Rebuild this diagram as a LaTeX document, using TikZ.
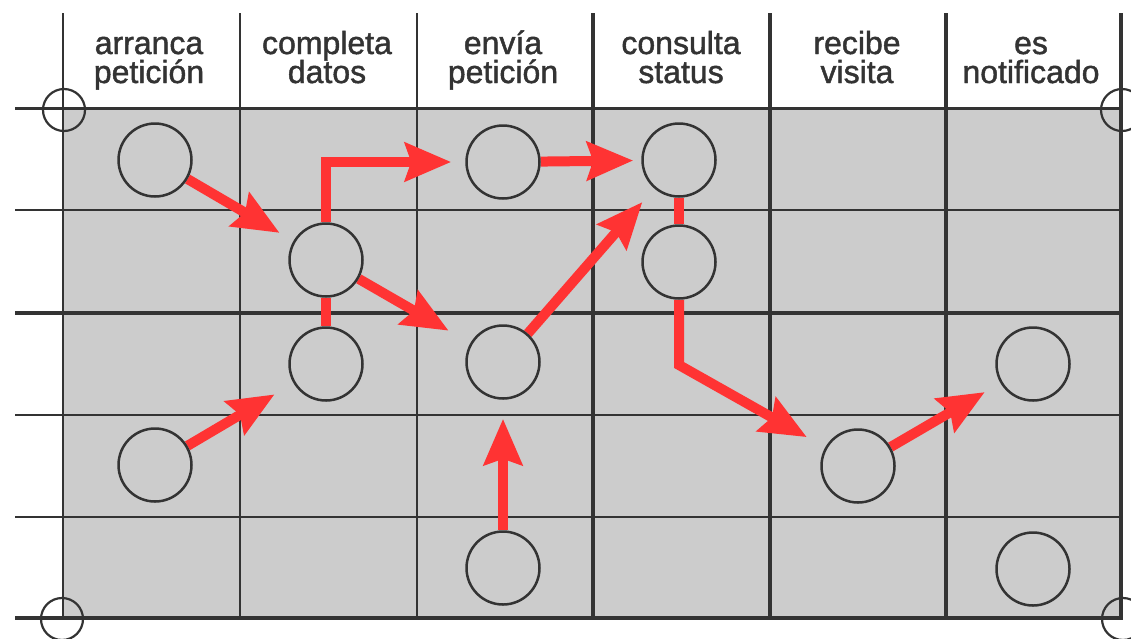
\documentclass[tikz,border=0pt]{standalone}
\usepackage{fontspec}
\newfontfamily\hdrfont[FakeBold=1.4]{Liberation Sans}
\usetikzlibrary{arrows.meta}
\definecolor{gridgray}{HTML}{CCCCCC}
\definecolor{ink}{HTML}{333333}
\definecolor{flowred}{HTML}{FF3333}
\pgfdeclarelayer{back}
\pgfdeclarelayer{mid}
\pgfsetlayers{back,mid,main}
\begin{document}
\begin{tikzpicture}[x=1pt,y=-1pt,
  act/.style={circle,draw=ink,line width=2.5pt,minimum size=73pt,inner sep=0pt},
  flow/.style={draw=flowred,line width=10pt,line join=miter,-{Stealth[length=46pt,width=38pt,inset=6pt]}},
  link/.style={draw=flowred,line width=10pt},
  hdr/.style={font=\hdrfont\fontsize{32}{29}\selectfont,text=ink,anchor=base,inner sep=0pt},
  regmark/.style={draw=ink,line width=2.2pt}]
\useasboundingbox (0,0) rectangle (1131,638);
\begin{pgfonlayer}{back}
\fill[gridgray] (63,108) rectangle (1121,618);
\foreach \y/\w in {108/3,210/2.5,313/4,415/2.5,517/2.5,618/4.5}
  \draw[ink,line width=\w pt] (15,\y) -- (1121,\y);
\foreach \x/\w in {63/2.5,240/2.5,417/2.5,593/3.5,770/3.5,946/4,1121/4.5}
  \draw[ink,line width=\w pt] (\x,13) -- (\x,620);
\draw[regmark] (64,110) circle[radius=21];
\draw[regmark] (1122,110) circle[radius=21];
\draw[regmark] (62,619) circle[radius=21];
\draw[regmark] (1123,619) circle[radius=21];
\end{pgfonlayer}
% headers
\node[hdr] (h1a) at (149,54) {arranca};
\node[hdr] (h1b) at (149,83) {petición};
\node[hdr] (h2a) at (327,54) {completa};
\node[hdr] (h2b) at (327,83) {datos};
\node[hdr] (h3a) at (503,54) {envía};
\node[hdr] (h3b) at (503,83) {petición};
\node[hdr] (h4a) at (681,54) {consulta};
\node[hdr] (h4b) at (681,83) {status};
\node[hdr] (h5a) at (857,54) {recibe};
\node[hdr] (h5b) at (857,83) {visita};
\node[hdr] (h6a) at (1031,54) {es};
\node[hdr] (h6b) at (1031,83) {notificado};
% activities
\node[act] (c11) at (155,160) {};
\node[act] (c22) at (326,260) {};
\node[act] (c23) at (326,364) {};
\node[act] (c14) at (155,465) {};
\node[act] (c31) at (503,162) {};
\node[act] (c33) at (503,362) {};
\node[act] (c35) at (503,568) {};
\node[act] (c41) at (679,160) {};
\node[act] (c42) at (679,262) {};
\node[act] (c54) at (858,466) {};
\node[act] (c63) at (1033,364) {};
\node[act] (c65) at (1033,569) {};
\coordinate (k) at (679,365);
\begin{pgfonlayer}{mid}
\draw[flow,shorten >=16pt] (c11) -- (c22);
\draw[flow,shorten >=14pt] (c22.north) |- (c31);
\draw[flow,shorten >=8pt] (c31) -- (c41);
\draw[flow,shorten >=25pt] (c22) -- (c33);
\draw[flow,shorten >=18pt] (c33) -- (c41);
\draw[link] (c22) -- (c23);
\draw[link] (c41) -- (c42);
\draw[flow,shorten >=21pt] (c42) -- (k) -- (c54);
\draw[flow,shorten >=18pt] (c54) -- (c63);
\draw[flow,shorten >=22pt] (c14) -- (c23);
\draw[flow,shorten >=19pt] (c35) -- (c33);
\end{pgfonlayer}
\end{tikzpicture}
\end{document}
